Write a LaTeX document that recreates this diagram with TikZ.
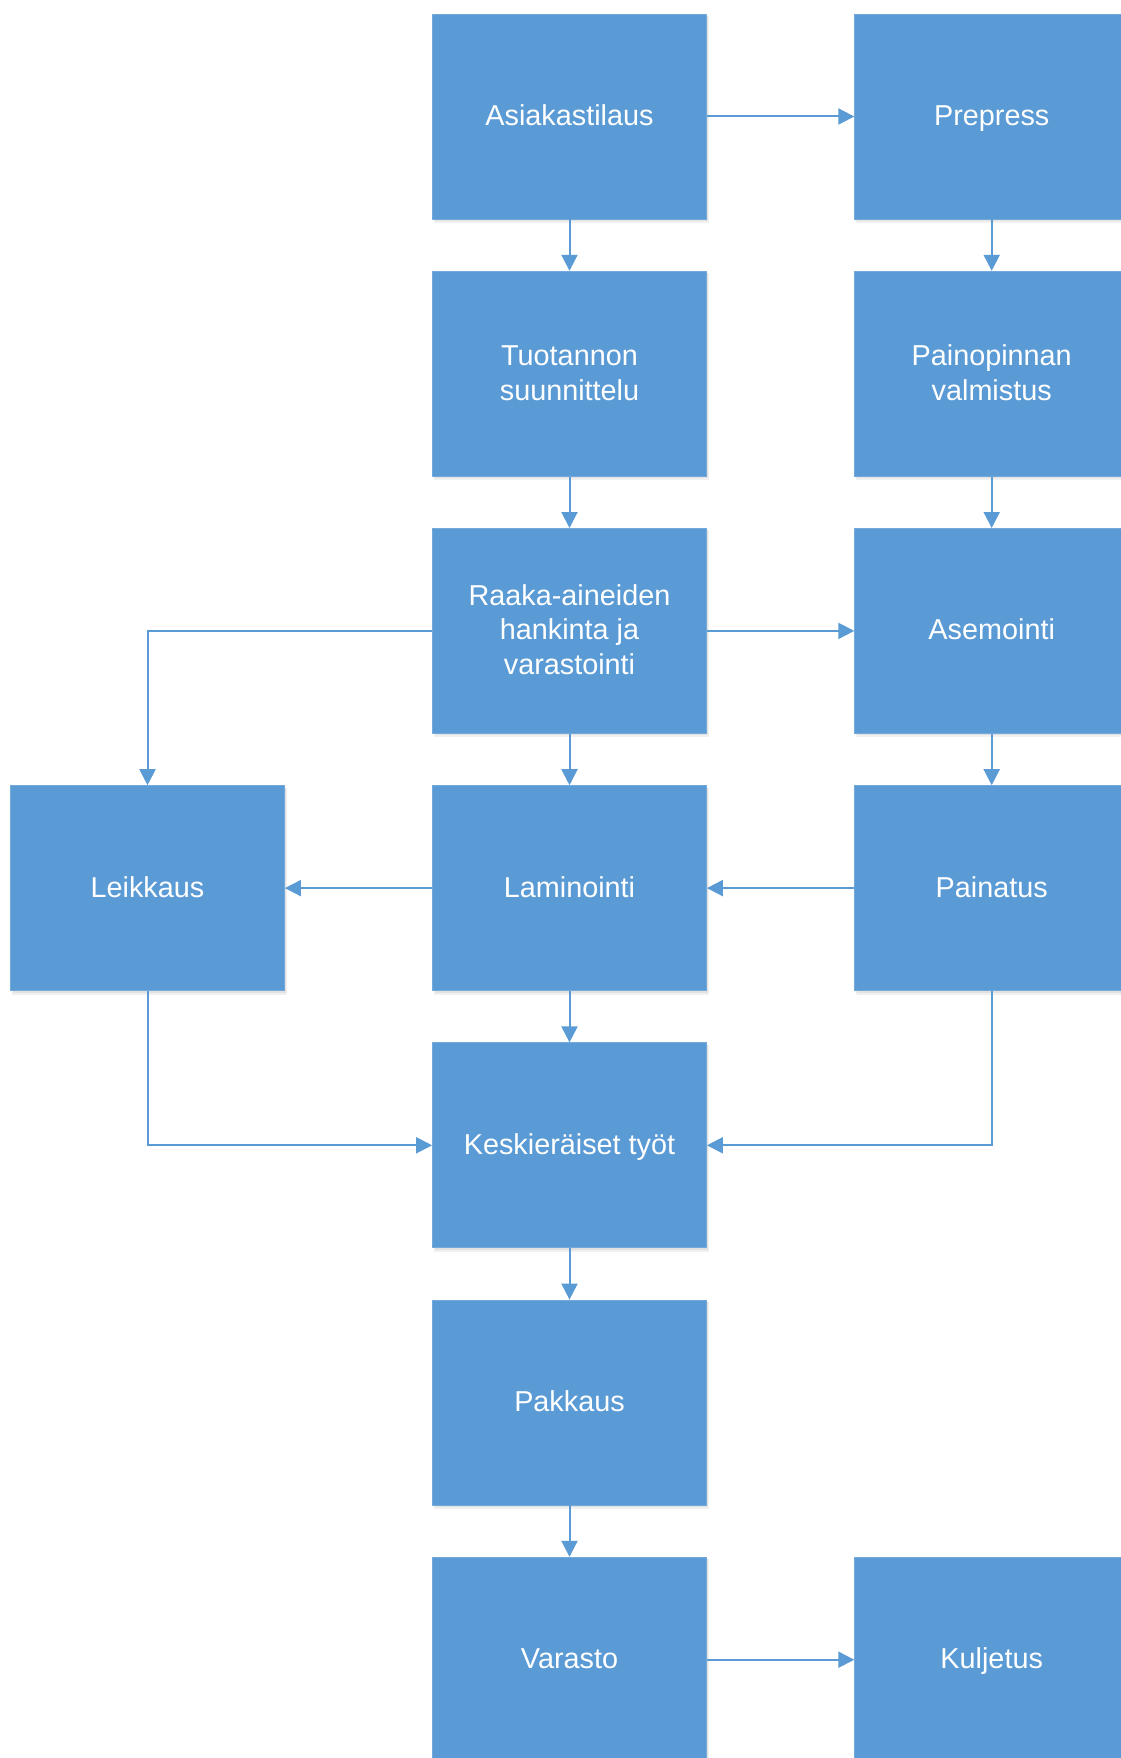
\documentclass[tikz,border=0pt]{standalone}
\usepackage{fontspec}
\setmainfont{Liberation Sans}
\usetikzlibrary{arrows.meta}
\definecolor{boxblue}{HTML}{5B9BD5}
\definecolor{edgeblue}{HTML}{5B9BD5}
\newcommand{\linestrut}{\rule[-6.5pt]{0pt}{31pt}}
\begin{document}
\begin{tikzpicture}[x=1pt,y=-1pt,
  procbox/.style={draw=boxblue!85!white, line width=0.8pt, fill=boxblue,
    minimum width=274pt, minimum height=205pt, inner sep=0pt,
    text=white, align=center,
    font=\fontsize{28.8}{34.8}\selectfont},
  link/.style={draw=edgeblue, line width=2pt,
    -{Triangle[length=16pt,width=16pt]}},
  softshadow/.style={fill=black, opacity=0.06}]
  \useasboundingbox (0,0) rectangle (1120,1758);
  \fill[white] (0,0) rectangle (1120,1758);

  % column and row centres
  \def\xl{147.5}
  \def\xm{569.5}
  \def\xr{991.7}

  % faint drop shadows under the boxes
  \foreach \cx/\cy in {\xm/116.5, \xr/116.5, \xm/373.7, \xr/373.7,
      \xm/630.9, \xr/630.9, \xl/888.1, \xm/888.1, \xr/888.1,
      \xm/1145.3, \xm/1402.5, \xm/1659.7, \xr/1659.7}
    {
    \fill[softshadow] (\cx-136,\cy-100.5) rectangle (\cx+139,\cy+106.5);
    \fill[softshadow] (\cx-135,\cy-100.5) rectangle (\cx+138,\cy+104.5);
    }

  \node[procbox] (tilaus)  at (\xm,116.5)  {\linestrut Asiakastilaus};
  \node[procbox] (prepress) at (\xr,116.5) {\linestrut Prepress};
  \node[procbox] (suunn)  at (\xm,373.7) {\linestrut Tuotannon\\suunnittelu\linestrut};
  \node[procbox] (painop) at (\xr,373.7) {\linestrut Painopinnan\\valmistus\linestrut};
  \node[procbox] (raaka)  at (\xm,630.9) {\linestrut Raaka-aineiden\\hankinta ja\\varastointi\linestrut};
  \node[procbox] (asem)    at (\xr,630.9)  {\linestrut Asemointi};
  \node[procbox] (leikk)   at (\xl,888.1)  {\linestrut Leikkaus};
  \node[procbox] (lamin)   at (\xm,888.1)  {\linestrut Laminointi};
  \node[procbox] (painat)  at (\xr,888.1)  {\linestrut Painatus};
  \node[procbox] (keski)   at (\xm,1145.3) {\linestrut Keskieräiset työt};
  \node[procbox] (pakk)    at (\xm,1402.5) {\linestrut Pakkaus};
  \node[procbox] (varasto) at (\xm,1659.7) {\linestrut Varasto};
  \node[procbox] (kulj)    at (\xr,1659.7) {\linestrut Kuljetus};

  % connectors
  \draw[link] (tilaus) -- (prepress);
  \draw[link] (tilaus) -- (suunn);
  \draw[link] (prepress) -- (painop);
  \draw[link] (suunn) -- (raaka);
  \draw[link] (painop) -- (asem);
  \draw[link] (raaka) -- (asem);
  \draw[link] (raaka) -- (lamin);
  \draw[link] (raaka.west) -| (leikk.north);
  \draw[link] (asem) -- (painat);
  \draw[link] (painat) -- (lamin);
  \draw[link] (lamin) -- (leikk);
  \draw[link] (lamin) -- (keski);
  \draw[link] (leikk.south) |- (keski.west);
  \draw[link] (painat.south) |- (keski.east);
  \draw[link] (keski) -- (pakk);
  \draw[link] (pakk) -- (varasto);
  \draw[link] (varasto) -- (kulj);
\end{tikzpicture}
\end{document}
